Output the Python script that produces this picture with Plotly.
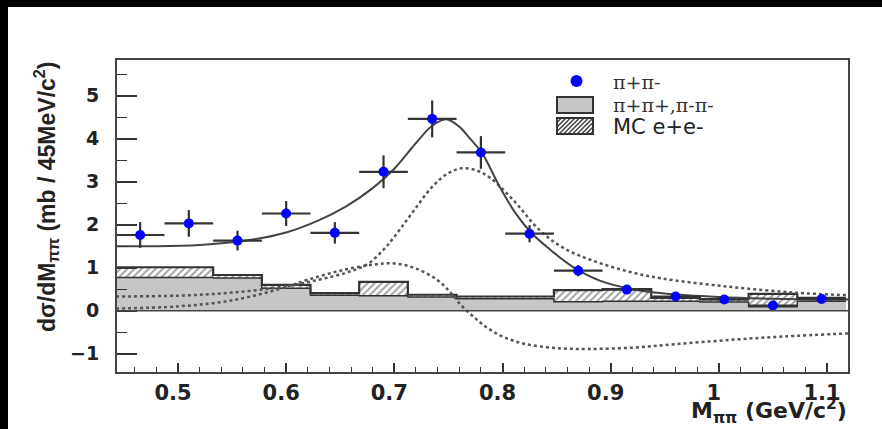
import plotly.graph_objects as go
import numpy as np

# ---------------- data ----------------
bin_width = 0.045
bin_start = 0.4425
mass = [0.465, 0.51, 0.555, 0.60, 0.645, 0.69, 0.735, 0.78, 0.825, 0.87, 0.915, 0.96, 1.005, 1.05, 1.095]
xsec = [1.76, 2.03, 1.63, 2.26, 1.81, 3.23, 4.46, 3.68, 1.79, 0.93, 0.49, 0.33, 0.26, 0.12, 0.27]
xsec_err = [0.30, 0.31, 0.23, 0.29, 0.25, 0.38, 0.43, 0.38, 0.20, 0.13, 0.09, 0.08, 0.07, 0.06, 0.07]

# same-sign pion background (gray) and MC e+e- (hatched, stacked on top)
same_sign = [0.77, 0.77, 0.76, 0.52, 0.36, 0.35, 0.32, 0.28, 0.28, 0.21, 0.22, 0.22, 0.20, 0.09, 0.22]
mc_ee = [0.24, 0.24, 0.07, 0.08, 0.05, 0.32, 0.05, 0.05, 0.05, 0.27, 0.28, 0.08, 0.07, 0.30, 0.08]

# total fit (solid)
fit_x = [0.4425, 0.48, 0.52, 0.56, 0.60, 0.63, 0.655, 0.68, 0.70, 0.72, 0.735, 0.748, 0.76, 0.77,
         0.781, 0.797, 0.812, 0.827, 0.845, 0.865, 0.89, 0.92, 0.95, 1.0, 1.05, 1.1194]
fit_y = [1.50, 1.50, 1.53, 1.62, 1.82, 2.10, 2.42, 2.85, 3.30, 3.90, 4.30, 4.45, 4.28, 4.00,
         3.67, 2.90, 2.27, 1.80, 1.40, 1.02, 0.70, 0.50, 0.40, 0.32, 0.28, 0.26]

# resonance component (dotted)
rho_x = [0.4425, 0.50, 0.55, 0.60, 0.63, 0.655, 0.675, 0.69, 0.70, 0.714, 0.735, 0.750, 0.762,
         0.775, 0.788, 0.810, 0.834, 0.857, 0.886, 0.918, 0.947, 1.008, 1.07, 1.1194]
rho_y = [0.33, 0.35, 0.42, 0.57, 0.72, 0.88, 1.08, 1.42, 1.72, 2.19, 2.88, 3.20, 3.31,
         3.27, 3.10, 2.57, 1.88, 1.45, 1.14, 0.90, 0.75, 0.56, 0.42, 0.36]

# interference component (dotted)
int_x = [0.4425, 0.50, 0.55, 0.60, 0.62, 0.65, 0.68, 0.70, 0.72, 0.74, 0.752, 0.762, 0.775,
         0.786, 0.80, 0.82, 0.85, 0.88, 0.92, 0.96, 1.01, 1.06, 1.1194]
int_y = [0.05, 0.10, 0.24, 0.55, 0.72, 0.93, 1.07, 1.10, 0.98, 0.71, 0.42, 0.12, -0.18,
         -0.40, -0.60, -0.77, -0.87, -0.89, -0.86, -0.78, -0.68, -0.60, -0.53]

legend_labels = ["π+π-", "π+π+,π-π-", "MC e+e-"]

# ---------------- geometry helpers ----------------
W, H = 882, 429
L, R, T, B = 117, 848, 60, 372
PW, PH = R - L, B - T


def pxx(x):
    return (x - L) / PW


def pyy(y):
    return (B - y) / PH


edges = bin_start + bin_width * np.arange(len(mass) + 1)
total = [a + b for a, b in zip(same_sign, mc_ee)]

DARK = "#333333"
fig = go.Figure()

# gray histogram fill
fig.add_trace(go.Bar(x=mass, y=same_sign, width=bin_width,
                     marker=dict(color="#c6c6c6", line=dict(width=0)), hoverinfo="skip"))
# hatched MC fill stacked on top
fig.add_trace(go.Bar(x=mass, y=mc_ee, base=same_sign, width=bin_width,
                     marker=dict(color="white", line=dict(width=0),
                                 pattern=dict(shape="/", fgcolor="#444444", bgcolor="white",
                                              size=5, solidity=0.4)),
                     hoverinfo="skip"))
# step outlines
fig.add_trace(go.Scatter(x=list(edges), y=same_sign + [same_sign[-1]], mode="lines",
                         line=dict(shape="hv", color=DARK, width=1.5), hoverinfo="skip"))
fig.add_trace(go.Scatter(x=list(edges), y=total + [total[-1]], mode="lines",
                         line=dict(shape="hv", color=DARK, width=2.2), hoverinfo="skip"))

# dotted components
fig.add_trace(go.Scatter(x=rho_x, y=rho_y, mode="lines",
                         line=dict(color="#555555", width=2.5, dash="dot", shape="spline")))
fig.add_trace(go.Scatter(x=int_x, y=int_y, mode="lines",
                         line=dict(color="#555555", width=2.5, dash="dot", shape="spline")))
# total fit
fig.add_trace(go.Scatter(x=fit_x, y=fit_y, mode="lines",
                         line=dict(color="#444444", width=2, shape="spline")))

# data points
fig.add_trace(go.Scatter(
    x=mass, y=xsec, mode="markers",
    marker=dict(color="#0000ff", size=10, symbol="circle"),
    error_y=dict(type="data", array=xsec_err, color=DARK, thickness=2.2, width=0),
    error_x=dict(type="constant", value=bin_width / 2, color=DARK, thickness=2.2, width=0),
))

shapes = []
# zero line
shapes.append(dict(type="line", xref="x domain", yref="y", x0=0, x1=1, y0=0, y1=0,
                   line=dict(color="#444444", width=1.5), layer="above"))
# black frame bands of the picture
shapes.append(dict(type="rect", xref="paper", yref="paper", x0=pxx(-5), x1=pxx(W + 5),
                   y0=pyy(7), y1=pyy(-5), fillcolor="black", line=dict(width=0)))
shapes.append(dict(type="rect", xref="paper", yref="paper", x0=pxx(-5), x1=pxx(8),
                   y0=pyy(H + 5), y1=pyy(-5), fillcolor="black", line=dict(width=0)))

# custom legend
shapes.append(dict(type="circle", xref="paper", yref="paper",
                   x0=pxx(570.5), x1=pxx(582.5), y0=pyy(75), y1=pyy(87),
                   fillcolor="#0000ff", line=dict(width=0)))
shapes.append(dict(type="rect", xref="paper", yref="paper",
                   x0=pxx(557), x1=pxx(593), y0=pyy(113), y1=pyy(97),
                   fillcolor="#c6c6c6", line=dict(color=DARK, width=2)))
hx0, hx1, hy0, hy1 = 557, 593, 118, 134
segs = []
hh = hy1 - hy0
c = hx0 - hh
while c < hx1:
    t0 = max(0, hx0 - c)
    t1 = min(hh, hx1 - c)
    if t1 > t0:
        segs.append("M{:.5f},{:.5f} L{:.5f},{:.5f}".format(
            pxx(c + t0), pyy(hy1 - t0), pxx(c + t1), pyy(hy1 - t1)))
    c += 4.5
shapes.append(dict(type="path", xref="paper", yref="paper", path=" ".join(segs),
                   line=dict(color="#444444", width=1.5)))
shapes.append(dict(type="rect", xref="paper", yref="paper",
                   x0=pxx(hx0), x1=pxx(hx1), y0=pyy(hy1), y1=pyy(hy0),
                   fillcolor="rgba(0,0,0,0)", line=dict(color=DARK, width=2)))

annotations = []
leg_y = [82, 105, 127]
leg_fonts = [dict(family="DejaVu Serif", size=19, color="#333333"),
             dict(family="DejaVu Serif", size=19, color="#333333"),
             dict(family="DejaVu Sans", size=21, color="#222222")]
for lab, yy, fnt in zip(legend_labels, leg_y, leg_fonts):
    annotations.append(dict(text=lab, xref="paper", yref="paper", x=pxx(611), y=pyy(yy),
                            xanchor="left", yanchor="middle", showarrow=False, font=fnt))

# axis titles
annotations.append(dict(text="<b>dσ/dM<sub>ππ</sub> (mb / 45MeV/c<sup>2</sup>)</b>",
                        xref="paper", yref="paper", x=pxx(46), y=pyy(197), textangle=-90,
                        xanchor="center", yanchor="middle", showarrow=False,
                        font=dict(family="Liberation Sans", size=23, color="#222222")))
annotations.append(dict(text="<b>M<sub>ππ</sub> (GeV/c<sup>2</sup>)</b>",
                        xref="paper", yref="paper", x=pxx(849), y=pyy(411),
                        xanchor="right", yanchor="middle", showarrow=False,
                        font=dict(family="DejaVu Sans", size=22, color="#222222")))

fig.update_layout(
    width=W, height=H,
    margin=dict(l=L, r=W - R, t=T, b=H - B, pad=0),
    paper_bgcolor="white", plot_bgcolor="white",
    showlegend=False, barmode="overlay", bargap=0,
    shapes=shapes, annotations=annotations,
    xaxis=dict(range=[0.4436, 1.1194], tick0=0, dtick=0.1, ticks="inside", ticklen=9,
               tickwidth=1.5, tickcolor="#333333", showline=True, linecolor="#444444",
               linewidth=2, mirror=True, showgrid=False, zeroline=False,
               tickfont=dict(family="DejaVu Sans", size=21, color="#222222", weight="bold"),
               ticklabelshift=-5, ticklabelstandoff=1,
               minor=dict(dtick=0.02, ticks="inside", ticklen=5, tickwidth=1.2,
                          tickcolor="#333333", showgrid=False)),
    yaxis=dict(range=[-1.426, 5.83], tick0=0, dtick=1, ticks="inside", ticklen=20,
               tickwidth=1.5, tickcolor="#333333", showline=True, linecolor="#444444",
               linewidth=2, mirror=True, showgrid=False, zeroline=False,
               tickfont=dict(family="DejaVu Sans", size=19, color="#222222", weight="bold"),
               ticklabelstandoff=12,
               minor=dict(dtick=0.5, ticks="inside", ticklen=10, tickwidth=1.2,
                          tickcolor="#333333", showgrid=False)),
)

fig.write_html("out.html")
